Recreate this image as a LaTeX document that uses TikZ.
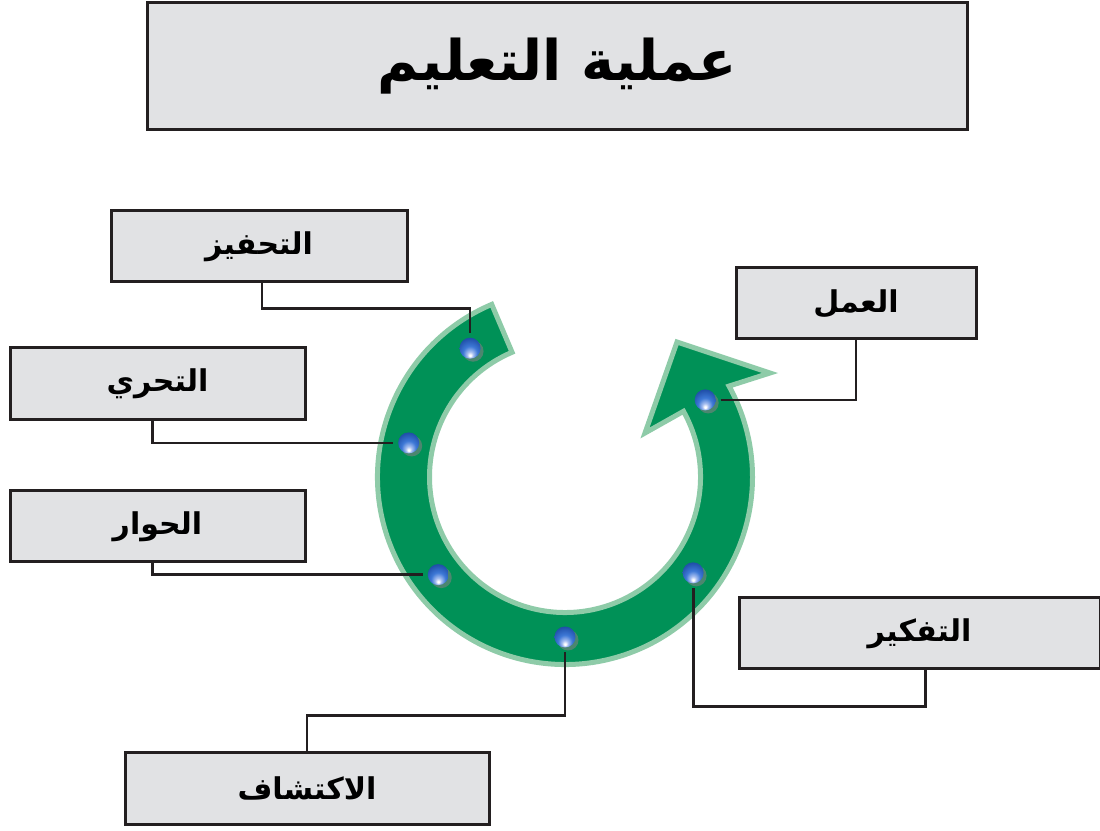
\documentclass[tikz,border=0pt]{standalone}
\usepackage{fontspec}
\usetikzlibrary{shadows}
\newfontfamily\arabicfont[Script=Arabic]{DejaVu Sans}
\TeXXeTstate=1
\definecolor{boxgray}{HTML}{E1E2E4}
\definecolor{inkline}{HTML}{231F20}
\definecolor{ringdark}{HTML}{009157}
\definecolor{ringlight}{HTML}{8ECBA8}
\definecolor{beadlight}{HTML}{A9C0F0}
\definecolor{beadmid}{HTML}{3D78D6}
\definecolor{beaddark}{HTML}{1E4DA6}
\pgfdeclareradialshading{bluebead}{\pgfpoint{0bp}{-18bp}}{color(0bp)=(white); color(2bp)=(white); color(7bp)=(beadlight); color(17bp)=(beadmid); color(32bp)=(beaddark); color(50bp)=(beaddark)}
\tikzstyle{label}=[draw=inkline, line width=3pt, fill=boxgray, inner sep=0pt, font=\arabicfont\bfseries\fontsize{30}{34}\selectfont]
\tikzstyle{titlebox}=[label, font=\arabicfont\bfseries\fontsize{56}{62}\selectfont]
\tikzstyle{bead}=[circle, minimum size=21pt, inner sep=0pt, outer sep=5pt, shading=bluebead, drop shadow={shadow xshift=3pt, shadow yshift=-3pt, opacity=0.6}]
\tikzstyle{link}=[draw=inkline, line width=2.8pt]
\tikzstyle{ring}=[draw=ringlight, fill=ringdark, line width=5pt, line join=miter]

\begin{document}
\begin{tikzpicture}[x=1pt, y=1pt]
        \useasboundingbox (0, 0) rectangle (1100, 830);
        \node[titlebox, minimum width=820pt, minimum height=127pt] (T) at (557, 763.5) {\beginR عملية التعليم\endR};
        \node[label, minimum width=296pt, minimum height=71pt] (L1) at (259, 583.5) {\beginR التحفيز\endR};
        \node[label, minimum width=295pt, minimum height=72pt] (L2) at (157.5, 446) {\beginR التحري\endR};
        \node[label, minimum width=295pt, minimum height=71pt] (L3) at (157.5, 303.5) {\beginR الحوار\endR};
        \node[label, minimum width=364pt, minimum height=72pt] (L4) at (307, 42) {\beginR الاكتشاف\endR};
        \node[label, minimum width=361pt, minimum height=71pt] (L5) at (919.5, 196.5) {\beginR التفكير\endR};
        \node[label, minimum width=240pt, minimum height=71pt] (L6) at (856, 526.5) {\beginR العمل\endR};
        \begin{scope}[shift={(565, 353)}]
            \draw[ring] (113:187.5pt) arc[start angle=113, end angle=389, radius=187.5pt]
                -- (205, 104) -- (112, 135) -- (80, 44)
                -- (29:135.5pt) arc[start angle=389, end angle=113, radius=135.5pt] -- cycle;
            \node[bead] (B1) at (126.4:160pt) {};
            \node[bead] (B2) at (167.7:160pt) {};
            \node[bead] (B3) at (217.6:160pt) {};
            \node[bead] (B4) at (270:160pt) {};
            \node[bead] (B5) at (323.2:160pt) {};
            \node[bead] (B6) at (28.8:160pt) {};
        \end{scope}
        \draw[link] ([xshift=3pt]L1.south) -- ++(0, -25) -| (B1.north);
        \draw[link] ([xshift=-5pt]L2.south) |- (B2.west);
        \draw[link] ([xshift=-5pt]L3.south) |- (B3.west);
        \draw[link] (B4.south) -- ++(0, -63) -| (L4.north);
        \draw[link] (B5.south) -- ++(0, -118) -| ([xshift=6pt]L5.south);
        \draw[link] (B6.east) -| (L6.south);
    \end{tikzpicture}
\end{document}
